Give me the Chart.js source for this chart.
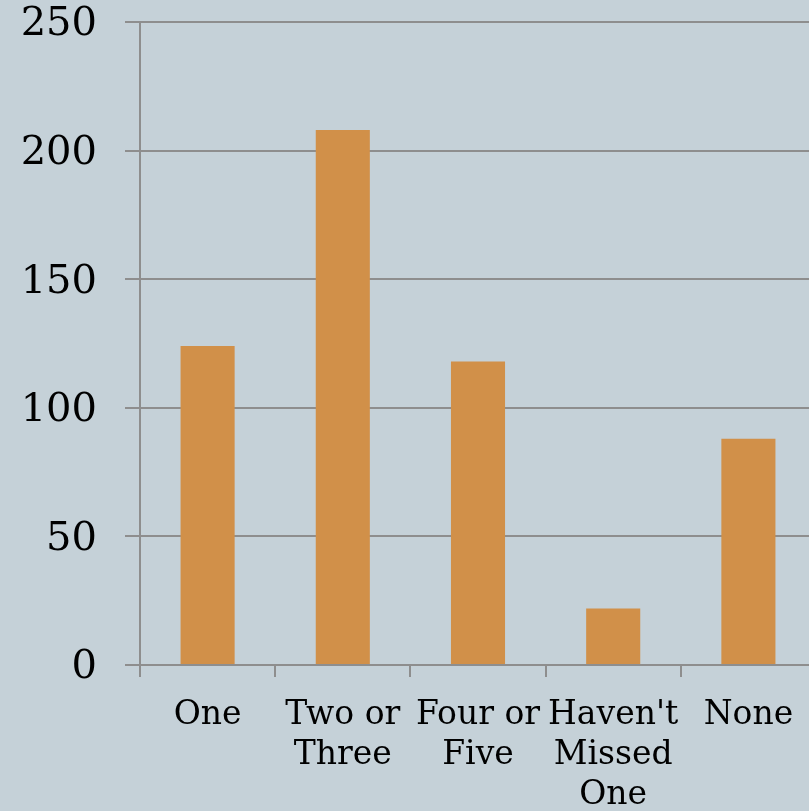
<!DOCTYPE html>
<html>
<head>
<meta charset="utf-8">
<script src="https://cdn.jsdelivr.net/npm/chart.js@4"></script>
<style>
  html, body { margin: 0; padding: 0; background: #c5d1d8; overflow: hidden; }
  #wrap { width: 816px; height: 811px; position: relative; }
</style>
</head>
<body>
<div id="wrap"><canvas id="chart"></canvas></div>
<script>
// categories (wrapped the way the reference wraps them)
const categories = [["One"], ["Two or", "Three"], ["Four or", "Five"], ["Haven't", "Missed", "One"], ["None"]];
const counts = [124, 208, 118, 22, 88];
const yMin = 0, yMax = 250, yStep = 50;

const GRID = "#8e8e8e";
const BAR = "#d19049";
const FONT = "'DejaVu Serif', 'Liberation Serif', serif";

new Chart(document.getElementById("chart"), {
  type: "bar",
  data: {
    labels: categories,
    datasets: [{ data: counts, backgroundColor: BAR, borderWidth: 0, categoryPercentage: 1, barPercentage: 0.4 }]
  },
  options: {
    responsive: true, maintainAspectRatio: false,
    animation: false,
    layout: { padding: { top: 22, right: 0, bottom: 0, left: 0 } },
    plugins: { legend: { display: false }, tooltip: { enabled: false } },
    scales: {
      x: {
        grid: { display: true, drawOnChartArea: false, color: GRID, lineWidth: 2, tickLength: 12, offset: true },
        border: { display: true, color: GRID, width: 2 },
        ticks: { color: "#000", font: { family: FONT, size: 33, lineHeight: 1.22 }, padding: 18, maxRotation: 0, autoSkip: false },
        afterFit: s => { s.height = 146; s.paddingLeft = 0; s.paddingRight = 0; }
      },
      y: {
        min: yMin, max: yMax,
        grid: { color: GRID, lineWidth: 2, tickLength: 15 },
        border: { display: true, color: GRID, width: 2 },
        ticks: { stepSize: yStep, color: "#000", font: { family: FONT, size: 40 }, padding: 28, labelOffset: 3 },
        // fixed axis width, and the top label may overhang the plot
        afterFit: s => { s.width = 140; s.paddingTop = 0; s.paddingBottom = 0; }
      }
    }
  }
});
</script>
</body>
</html>
